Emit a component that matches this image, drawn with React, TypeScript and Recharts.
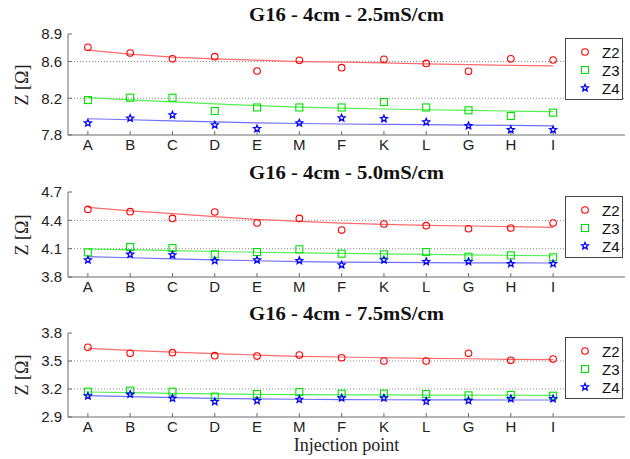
import React from 'react';
import { ComposedChart, Scatter, Line, XAxis, YAxis, ReferenceLine, Legend } from 'recharts';

const points = ['A', 'B', 'C', 'D', 'E', 'M', 'F', 'K', 'L', 'G', 'H', 'I'];
const xTicks = [1, 2, 3, 4, 5, 6, 7, 8, 9, 10, 11, 12];

// 2.5 mS/cm
const z2_25 = [8.755, 8.693, 8.63, 8.653, 8.497, 8.613, 8.533, 8.624, 8.58, 8.494, 8.63, 8.617];
const z3_25 = [8.181, 8.206, 8.206, 8.061, 8.1, 8.1, 8.1, 8.159, 8.1, 8.069, 8.007, 8.043];
const z4_25 = [7.93, 7.982, 8.018, 7.909, 7.868, 7.93, 7.985, 7.977, 7.941, 7.901, 7.857, 7.857];
const fit2_25 = [8.725, 8.68, 8.648, 8.63, 8.615, 8.6, 8.594, 8.586, 8.575, 8.567, 8.559, 8.552];
const fit3_25 = [8.206, 8.183, 8.16, 8.14, 8.12, 8.104, 8.092, 8.083, 8.075, 8.068, 8.061, 8.054];
const fit4_25 = [7.977, 7.966, 7.953, 7.942, 7.932, 7.925, 7.92, 7.916, 7.912, 7.908, 7.904, 7.9];

// 5.0 mS/cm
const z2_50 = [4.516, 4.492, 4.42, 4.488, 4.372, 4.42, 4.297, 4.361, 4.343, 4.311, 4.319, 4.372];
const z3_50 = [4.061, 4.117, 4.107, 4.04, 4.064, 4.093, 4.047, 4.04, 4.064, 4.015, 4.029, 4.008];
const z4_50 = [3.98, 4.04, 4.033, 3.973, 3.98, 3.973, 3.927, 3.98, 3.962, 3.962, 3.941, 3.941];
const fit2_50 = [4.538, 4.5, 4.47, 4.44, 4.41, 4.39, 4.37, 4.358, 4.347, 4.34, 4.333, 4.326];
const fit3_50 = [4.096, 4.09, 4.08, 4.07, 4.062, 4.055, 4.05, 4.044, 4.04, 4.035, 4.03, 4.025];
const fit4_50 = [4.015, 4.004, 3.992, 3.982, 3.972, 3.963, 3.958, 3.955, 3.952, 3.95, 3.949, 3.948];

// 7.5 mS/cm
const z2_75 = [3.647, 3.582, 3.589, 3.557, 3.553, 3.564, 3.535, 3.5, 3.5, 3.582, 3.507, 3.521];
const z3_75 = [3.171, 3.182, 3.171, 3.118, 3.146, 3.168, 3.15, 3.15, 3.146, 3.132, 3.136, 3.128];
const z4_75 = [3.125, 3.143, 3.1, 3.064, 3.075, 3.089, 3.103, 3.103, 3.068, 3.075, 3.096, 3.096];
const fit2_75 = [3.636, 3.614, 3.596, 3.578, 3.564, 3.55, 3.543, 3.535, 3.528, 3.524, 3.518, 3.514];
const fit3_75 = [3.168, 3.161, 3.154, 3.147, 3.143, 3.14, 3.138, 3.136, 3.135, 3.134, 3.133, 3.132];
const fit4_75 = [3.128, 3.118, 3.108, 3.1, 3.094, 3.09, 3.087, 3.085, 3.084, 3.083, 3.082, 3.082];

const RED = '#ff0000';
const GREEN = '#00e000';
const BLUE = '#0000ff';
const AXIS = '#6b6b6b';
const sans = '"Liberation Sans", Arial, sans-serif';
const serif = '"Liberation Serif", "Times New Roman", serif';

const starPath = (cx: number, cy: number, r: number) => {
    const pts: string[] = [];
    for (let i = 0; i < 10; i++) {
        const rad = i % 2 === 0 ? r : r * 0.45;
        const a = -Math.PI / 2 + (i * Math.PI) / 5;
        pts.push(`${cx + rad * Math.cos(a)},${cy + rad * Math.sin(a)}`);
    }
    return pts.join(' ');
};

const CircleMark = (p: any) => <circle cx={p.cx} cy={p.cy} r={3.3} fill="none" stroke={RED} strokeWidth={1.1} />;
const SquareMark = (p: any) => (
    <rect x={p.cx - 3.5} y={p.cy - 3.5} width={7} height={7} fill="none" stroke={GREEN} strokeWidth={1.1} />
);
const StarMark = (p: any) => (
    <polygon points={starPath(p.cx, p.cy, 3.6)} fill="none" stroke={BLUE} strokeWidth={1.3} />
);

const marks = [
    (cx: number, cy: number) => <circle cx={cx} cy={cy} r={3.3} fill="none" stroke={RED} strokeWidth={1.1} />,
    (cx: number, cy: number) => (
        <rect x={cx - 3.5} y={cy - 3.5} width={7} height={7} fill="none" stroke={GREEN} strokeWidth={1.1} />
    ),
    (cx: number, cy: number) => <polygon points={starPath(cx, cy, 3.6)} fill="none" stroke={BLUE} strokeWidth={1.3} />,
];

const LegendBox = (props: any) => {
    const items = (props.payload || []).filter((e: any) => e.type !== 'none');
    return (
        <div style={{ width: 58, height: 62, boxSizing: 'border-box', border: '1px solid #444', background: '#fff' }}>
            {items.map((entry: any, i: number) => (
                <div key={entry.value} style={{ display: 'flex', alignItems: 'center', height: 18, marginTop: i === 0 ? 4 : 0 }}>
                    <svg width={36} height={18}>{marks[i](19, 9)}</svg>
                    <span style={{ fontFamily: sans, fontSize: 15, color: '#111' }}>{entry.value}</span>
                </div>
            ))}
        </div>
    );
};

type PanelProps = {
    top: number;
    height: number;
    marginTop: number;
    plotHeight: number;
    title: string;
    domain: [number, number];
    ticks: number[];
    grid: number[];
    z2: number[];
    z3: number[];
    z4: number[];
    f2: number[];
    f3: number[];
    f4: number[];
};

const Panel: React.FC<PanelProps> = ({ top, height, marginTop, plotHeight, title, domain, ticks, grid, z2, z3, z4, f2, f3, f4 }) => {
    const data = points.map((p, i) => ({ x: i + 1, name: p, z2: z2[i], z3: z3[i], z4: z4[i], f2: f2[i], f3: f3[i], f4: f4[i] }));
    const plotTop = top + marginTop;
    return (
        <>
            <div style={{ position: 'absolute', left: 68, width: 557, top: plotTop - 28, textAlign: 'center', fontFamily: serif, fontWeight: 'bold', fontSize: 18, lineHeight: '18px', color: '#111', transform: 'scaleX(1.15)' }}>
                {title}
            </div>
            <div style={{ position: 'absolute', left: 22, top: plotTop + plotHeight / 2, width: 0, height: 0 }}>
                <div style={{ position: 'absolute', transform: 'translate(-50%, -50%) rotate(-90deg)', fontFamily: serif, fontSize: 18, whiteSpace: 'nowrap', color: '#222' }}>
                    Z [Ω]
                </div>
            </div>
            <div style={{ position: 'absolute', left: 0, top }}>
                <ComposedChart width={630} height={height} data={data} margin={{ top: marginTop, right: 5, bottom: height - marginTop - plotHeight - 20, left: 28 }}>
                    <XAxis dataKey="x" type="number" domain={[0.53, 13.7]} ticks={xTicks} allowDataOverflow
                        tickFormatter={(v: number) => points[v - 1]} height={20} tickSize={-4} tickMargin={8}
                        stroke={AXIS} tick={{ fill: '#222', fontFamily: sans, fontSize: 15 }} interval={0} />
                    <XAxis xAxisId="top" orientation="top" dataKey="x" type="number" domain={[0.53, 13.7]} ticks={xTicks}
                        allowDataOverflow height={0} tick={false} tickSize={-4} stroke={AXIS} />
                    <YAxis type="number" domain={domain} ticks={ticks} allowDataOverflow width={40} tickSize={-4} tickMargin={10}
                        stroke={AXIS} tick={{ fill: '#222', fontFamily: sans, fontSize: 15 }} interval={0} />
                    <YAxis yAxisId="right" orientation="right" type="number" domain={domain} ticks={ticks} allowDataOverflow
                        width={0} tick={false} tickSize={-4} stroke={AXIS} />
                    {grid.map((g) => (
                        <ReferenceLine key={g} y={g} stroke="#8a8a8a" strokeDasharray="1 2" />
                    ))}
                    <Line dataKey="f2" stroke="#ff6b6b" strokeWidth={1.2} dot={false} legendType="none" isAnimationActive={false} />
                    <Line dataKey="f3" stroke="#55ee55" strokeWidth={1.2} dot={false} legendType="none" isAnimationActive={false} />
                    <Line dataKey="f4" stroke="#7070ff" strokeWidth={1.2} dot={false} legendType="none" isAnimationActive={false} />
                    <Scatter name="Z2" dataKey="z2" fill={RED} shape={CircleMark} isAnimationActive={false} />
                    <Scatter name="Z3" dataKey="z3" fill={GREEN} shape={SquareMark} isAnimationActive={false} />
                    <Scatter name="Z4" dataKey="z4" fill={BLUE} shape={StarMark} isAnimationActive={false} />
                    <Legend layout="horizontal" verticalAlign="middle" align="center" content={<LegendBox />}
                        wrapperStyle={{ left: 565, top: marginTop + 4, width: 58, height: 62 }} />
                </ComposedChart>
            </div>
        </>
    );
};

export default function App() {
    return (
        <div style={{ position: 'absolute', left: 0, top: 0, width: 630, height: 459, background: '#fff', overflow: 'hidden' }}>
            <Panel top={0} height={155} marginTop={34} plotHeight={101} title="G16 - 4cm - 2.5mS/cm"
                domain={[7.8, 8.9]} ticks={[7.8, 8.2, 8.6, 8.9]} grid={[8.2, 8.6]}
                z2={z2_25} z3={z3_25} z4={z4_25} f2={fit2_25} f3={fit3_25} f4={fit4_25} />
            <Panel top={150} height={150} marginTop={42} plotHeight={85} title="G16 - 4cm - 5.0mS/cm"
                domain={[3.8, 4.7]} ticks={[3.8, 4.1, 4.4, 4.7]} grid={[4.1, 4.4]}
                z2={z2_50} z3={z3_50} z4={z4_50} f2={fit2_50} f3={fit3_50} f4={fit4_50} />
            <Panel top={290} height={150} marginTop={43} plotHeight={84} title="G16 - 4cm - 7.5mS/cm"
                domain={[2.9, 3.8]} ticks={[2.9, 3.2, 3.5, 3.8]} grid={[3.2, 3.5]}
                z2={z2_75} z3={z3_75} z4={z4_75} f2={fit2_75} f3={fit3_75} f4={fit4_75} />
            <div style={{ position: 'absolute', left: 68, width: 557, top: 437, textAlign: 'center', fontFamily: serif, fontSize: 18, lineHeight: '16px', color: '#222' }}>
                Injection point
            </div>
        </div>
    );
}
